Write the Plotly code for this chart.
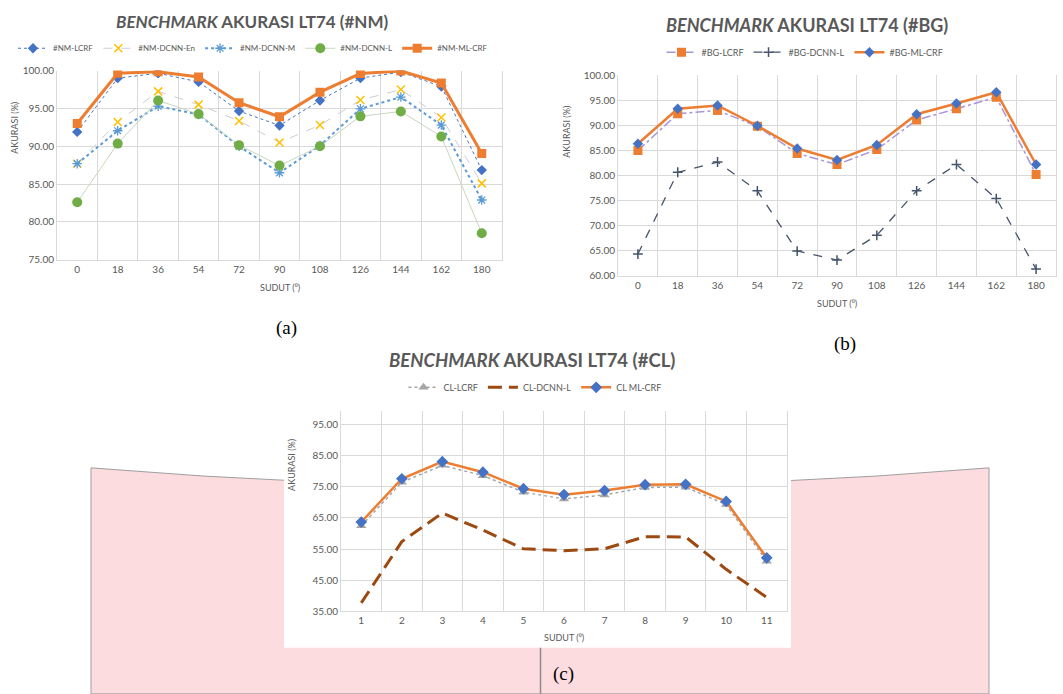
import plotly.graph_objects as go

W, H = 1063, 694

# ---------------- data ----------------
angles = ["0", "18", "36", "54", "72", "90", "108", "126", "144", "162", "180"]
cl_pos = ["1", "2", "3", "4", "5", "6", "7", "8", "9", "10", "11"]

nm_lcrf = [91.9, 99.0, 99.65, 98.5, 94.65, 92.75, 96.05, 99.0, 99.8, 97.9, 86.85]
nm_dcnn_en = [87.7, 93.2, 97.25, 95.5, 93.35, 90.5, 92.8, 96.1, 97.5, 93.8, 85.1]
nm_dcnn_m = [87.7, 92.05, 95.3, 94.2, 90.0, 86.5, 90.1, 94.95, 96.5, 92.8, 82.9]
nm_dcnn_l = [82.6, 90.35, 96.05, 94.25, 90.15, 87.45, 90.0, 93.95, 94.6, 91.3, 78.5]
nm_ml_crf = [93.0, 99.65, 99.85, 99.15, 95.75, 93.9, 97.15, 99.6, 99.95, 98.35, 89.05]

bg_lcrf = [85.0, 92.35, 93.0, 89.85, 84.4, 82.2, 85.2, 91.1, 93.35, 95.65, 80.2]
bg_dcnn_l = [64.3, 80.65, 82.7, 76.95, 64.9, 63.1, 68.05, 76.95, 82.2, 75.4, 61.3]
bg_ml_crf = [86.35, 93.35, 94.0, 89.95, 85.4, 83.1, 86.1, 92.25, 94.4, 96.65, 82.2]

cl_lcrf = [62.5, 76.5, 81.9, 78.6, 73.3, 71.1, 72.4, 74.8, 74.9, 69.3, 51.1]
cl_dcnn_l = [37.7, 57.4, 66.6, 61.1, 55.1, 54.5, 55.1, 59.0, 58.9, 48.5, 39.5]
cl_ml_crf = [63.7, 77.6, 83.1, 79.7, 74.4, 72.5, 73.8, 75.7, 75.8, 70.3, 52.2]

# ---------------- helpers ----------------
def px(x):
    return x / W

def py(y):
    return 1 - y / H

GRID = "#D9D9D9"
TXT = "#595959"
BASEFONT = "Lato"

fig = go.Figure()

# chart (a)
fig.add_trace(go.Scatter(x=angles, y=nm_lcrf, name="#NM-LCRF", mode="lines+markers",
                         line=dict(color="#4472C4", width=1, dash="dot"),
                         marker=dict(symbol="diamond", size=8, color="#4472C4"),
                         xaxis="x", yaxis="y", legend="legend"))
fig.add_trace(go.Scatter(x=angles, y=nm_dcnn_en, name="#NM-DCNN-En", mode="lines+markers",
                         line=dict(color="#CFC9D8", width=1, dash="dash"),
                         marker=dict(symbol="x-thin-open", size=8, color="#FFC000",
                                     line=dict(color="#FFC000", width=1.5)),
                         xaxis="x", yaxis="y", legend="legend"))
fig.add_trace(go.Scatter(x=angles, y=nm_dcnn_m, name="#NM-DCNN-M", mode="lines+markers",
                         line=dict(color="#5B9BD5", width=2, dash="dot"),
                         marker=dict(symbol="asterisk-open", size=8, color="#5B9BD5",
                                     line=dict(color="#5B9BD5", width=1.3)),
                         xaxis="x", yaxis="y", legend="legend"))
fig.add_trace(go.Scatter(x=angles, y=nm_dcnn_l, name="#NM-DCNN-L", mode="lines+markers",
                         line=dict(color="#C8D6BE", width=1),
                         marker=dict(symbol="circle", size=10, color="#70AD47"),
                         xaxis="x", yaxis="y", legend="legend"))
fig.add_trace(go.Scatter(x=angles, y=nm_ml_crf, name="#NM-ML-CRF", mode="lines+markers",
                         line=dict(color="#ED7D31", width=3),
                         marker=dict(symbol="square", size=9, color="#ED7D31"),
                         xaxis="x", yaxis="y", legend="legend"))

# chart (b)
fig.add_trace(go.Scatter(x=angles, y=bg_lcrf, name="#BG-LCRF", mode="lines+markers",
                         line=dict(color="#A895D8", width=1.5, dash="dashdot"),
                         marker=dict(symbol="square", size=9, color="#ED7D31"),
                         xaxis="x2", yaxis="y2", legend="legend2"))
fig.add_trace(go.Scatter(x=angles, y=bg_dcnn_l, name="#BG-DCNN-L", mode="lines+markers",
                         line=dict(color="#44546A", width=1.3, dash="dash"),
                         marker=dict(symbol="cross-thin-open", size=7, color="#44546A",
                                     line=dict(color="#44546A", width=1.5)),
                         xaxis="x2", yaxis="y2", legend="legend2"))
fig.add_trace(go.Scatter(x=angles, y=bg_ml_crf, name="#BG-ML-CRF", mode="lines+markers",
                         line=dict(color="#ED7D31", width=2.5),
                         marker=dict(symbol="diamond", size=8, color="#4472C4"),
                         xaxis="x2", yaxis="y2", legend="legend2"))

# chart (c)
fig.add_trace(go.Scatter(x=cl_pos, y=cl_lcrf, name="CL-LCRF", mode="lines+markers",
                         line=dict(color="#A5A5A5", width=1.5, dash="dot"),
                         marker=dict(symbol="triangle-up", size=9, color="#A5A5A5"),
                         xaxis="x3", yaxis="y3", legend="legend3"))
fig.add_trace(go.Scatter(x=cl_pos, y=cl_dcnn_l, name="CL-DCNN-L", mode="lines",
                         line=dict(color="#9C4A12", width=3, dash="14px,7px"),
                         xaxis="x3", yaxis="y3", legend="legend3"))
fig.add_trace(go.Scatter(x=cl_pos, y=cl_ml_crf, name="CL ML-CRF", mode="lines+markers",
                         line=dict(color="#ED7D31", width=2.5),
                         marker=dict(symbol="diamond", size=9, color="#4472C4"),
                         xaxis="x3", yaxis="y3", legend="legend3"))

tickfont = dict(family=BASEFONT, size=10, color=TXT)

def xax(domain, anchor):
    return dict(domain=domain, anchor=anchor, type="category", range=[-0.5, 10.5],
                tickson="boundaries", showgrid=True, gridcolor=GRID, gridwidth=1,
                showline=True, linecolor=GRID, linewidth=1, ticks="", ticklen=0,
                tickfont=tickfont, zeroline=False, fixedrange=True)

def yax(domain, anchor, rng, dtick, tick0):
    return dict(domain=domain, anchor=anchor, range=rng, dtick=dtick, tick0=tick0,
                tickformat=".2f", showgrid=True, gridcolor=GRID, gridwidth=1,
                showline=True, mirror=True, linecolor=GRID, linewidth=1,
                ticks="", tickfont=tickfont, zeroline=False, fixedrange=True)

# panel geometry (pixels)
A = dict(l=57, r=502, t=65.7, b=258.3)
B = dict(l=618, r=1056, t=70.7, b=274.3)
C = dict(l=341, r=787, t=411.7, b=616)

fig.update_layout(
    xaxis=xax([px(A["l"]), px(A["r"])], "y"),
    yaxis=yax([py(A["b"]), py(A["t"])], "x", [75, 100], 5, 75),
    xaxis2=xax([px(B["l"]), px(B["r"])], "y2"),
    yaxis2=yax([py(B["b"]), py(B["t"])], "x2", [60, 100], 5, 60),
    xaxis3=xax([px(C["l"]), px(C["r"])], "y3"),
    yaxis3=yax([py(C["b"]), py(C["t"])], "x3", [35, 99.5], 10, 35),
)

fig.update_layout(
    legend=dict(orientation="h", x=px(253), y=py(43), xanchor="center", yanchor="middle",
                font=dict(family=BASEFONT, size=8, color=TXT), bgcolor="rgba(0,0,0,0)", itemwidth=30),
    legend2=dict(orientation="h", x=px(805), y=py(47), xanchor="center", yanchor="middle",
                 font=dict(family=BASEFONT, size=9, color=TXT), bgcolor="rgba(0,0,0,0)", itemwidth=30),
    legend3=dict(orientation="h", x=px(535), y=py(388), xanchor="center", yanchor="middle",
                 font=dict(family=BASEFONT, size=9, color=TXT), bgcolor="rgba(0,0,0,0)", itemwidth=30),
)

shapes = []
# pink background panel
path = (f"M {px(91)},{py(700)} L {px(91)},{py(470)} "
        f"Q {px(540)},{py(508)} {px(989)},{py(470)} L {px(989)},{py(700)} Z")
shapes.append(dict(type="path", xref="paper", yref="paper", path=path,
                   fillcolor="#FDDCDF", line=dict(color="#9E9E9E", width=1), layer="below"))
# white box behind chart (c)
shapes.append(dict(type="rect", xref="paper", yref="paper",
                   x0=px(284), x1=px(791), y0=py(653), y1=py(440),
                   fillcolor="white", line=dict(width=0), layer="below"))
# vertical line under chart (c)
shapes.append(dict(type="line", xref="paper", yref="paper",
                   x0=px(540.5), x1=px(540.5), y0=py(653), y1=py(700),
                   line=dict(color="#8C8C8C", width=1.5), layer="below"))
fig.update_layout(shapes=shapes)

ann = []

def title(text, x, y, size):
    ann.append(dict(text=f"<b><i>BENCHMARK</i> {text}</b>", x=px(x), y=py(y),
                    xref="paper", yref="paper", xanchor="center", yanchor="middle",
                    showarrow=False, font=dict(family=BASEFONT, size=size, color=TXT)))

title("AKURASI LT74 (#NM)", 252, 16, 17)
title("AKURASI LT74 (#BG)", 807, 19, 18)
title("AKURASI LT74 (#CL)", 532, 360, 18.5)

def axtitle(text, x, y, angle=0):
    ann.append(dict(text=text, x=px(x), y=py(y), xref="paper", yref="paper",
                    xanchor="center", yanchor="middle", showarrow=False, textangle=angle,
                    font=dict(family=BASEFONT, size=9, color=TXT)))

axtitle("SUDUT (⁰)", 279.5, 286)
axtitle("SUDUT (⁰)", 837, 303)
axtitle("SUDUT (⁰)", 564, 643)
axtitle("AKURASI (%)", 15, 124, -90)
axtitle("AKURASI (%)", 567, 128, -90)
axtitle("AKURASI (%)", 292, 467, -90)

for lab, x, y in [("(a)", 286, 328), ("(b)", 845, 344), ("(c)", 563, 680)]:
    ann.append(dict(text=lab, x=px(x), y=py(y), xref="paper", yref="paper",
                    xanchor="center", yanchor="middle", showarrow=False,
                    font=dict(family="Liberation Serif", size=19, color="black")))

fig.update_layout(
    annotations=ann,
    width=W, height=H,
    margin=dict(l=0, r=0, t=0, b=0),
    paper_bgcolor="white",
    plot_bgcolor="rgba(0,0,0,0)",
    font=dict(family=BASEFONT, color=TXT),
    showlegend=True,
)

fig.write_html(
    "out.html",
    config={"displayModeBar": False},
    post_script="document.body.style.margin='0';document.body.style.padding='0';"
                "document.body.style.overflow='hidden';",
)
